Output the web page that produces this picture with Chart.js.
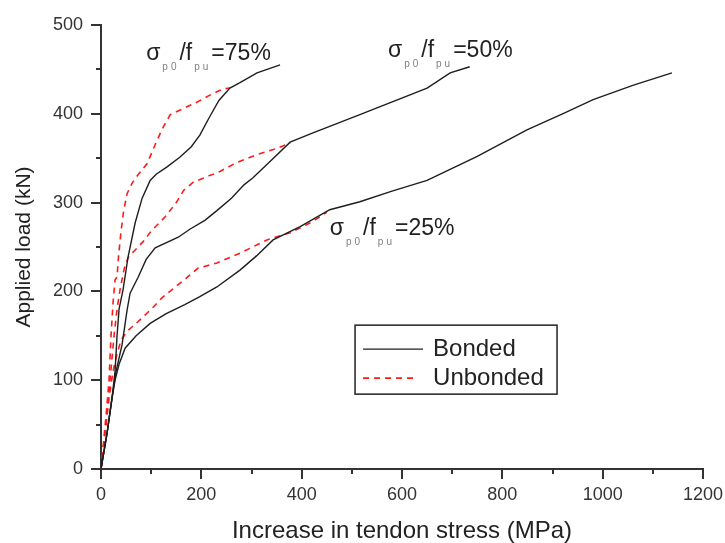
<!DOCTYPE html>
<html><head><meta charset="utf-8">
<script src="https://cdn.jsdelivr.net/npm/chart.js@4.4.0/dist/chart.umd.min.js"></script>
<style>html,body{margin:0;padding:0;background:#fff;}</style>
</head><body>
<canvas id="c" width="725" height="543"></canvas>
<script>
// ---- Data ----
const bonded75X = [0, 12, 22, 28, 32, 36, 44, 54, 68, 82, 98, 110, 131, 157, 180, 197, 215, 235, 257, 277, 311, 357];
const bonded75Y = [0, 40, 80, 110, 150, 180, 202, 239, 277, 305, 325, 332, 340, 351, 363, 376, 395, 415, 429, 435, 446, 455];

const unbonded75X = [0, 10, 16, 20, 24, 28, 32, 35, 40, 45, 52, 62, 72, 92, 110, 124, 138, 164, 191, 217, 243, 257];
const unbonded75Y = [0, 60, 100, 150, 187, 213, 216, 240, 268, 290, 310, 322, 330, 344, 368, 385, 399, 406, 413, 421, 428, 429];

const bonded50X = [0, 12, 22, 30, 42, 52, 58, 74, 90, 108, 154, 177, 207, 231, 260, 285, 303, 340, 377, 420, 516, 650, 696, 735];
const bonded50Y = [0, 40, 80, 110, 140, 179, 198, 216, 236, 249, 261, 270, 280, 291, 305, 320, 328, 348, 368, 378, 399, 429, 446, 453];

const unbonded50X = [0, 10, 18, 26, 32, 38, 46, 54, 62, 84, 100, 128, 150, 165, 184, 237, 270, 311, 345, 377];
const unbonded50Y = [0, 50, 100, 150, 180, 202, 225, 238, 243, 256, 268, 284, 300, 314, 323, 335, 345, 354, 360, 367];

const bonded25X = [0, 12, 22, 28, 36, 48, 70, 98, 130, 167, 197, 231, 277, 310, 343, 397, 456, 516, 580, 650, 750, 849, 920, 981, 1060, 1138];
const bonded25Y = [0, 40, 80, 100, 118, 136, 150, 164, 175, 185, 194, 205, 224, 240, 258, 273, 292, 301, 313, 325, 352, 382, 400, 416, 432, 446];

const unbonded25X = [0, 8, 16, 24, 32, 40, 52, 74, 102, 122, 148, 170, 193, 231, 277, 331, 377, 420, 450];
const unbonded25Y = [0, 40, 80, 110, 130, 145, 155, 166, 181, 193, 205, 215, 226, 232, 243, 258, 266, 278, 289];

const seriesNames = ['Bonded', 'Unbonded'];
const ratioTexts = ['=75%', '=50%', '=25%'];
const ratioLabelX = [90, 572, 456];
const ratioLabelY = [461, 464, 264];

const xTicks = [0, 200, 400, 600, 800, 1000, 1200];
const yTicks = [0, 100, 200, 300, 400, 500];

function pts(xs, ys) { return xs.map((x, i) => ({ x: x, y: ys[i] })); }

const FONT = '"Liberation Sans", Arial, sans-serif';
const BLACK = '#1e1e1e';
const RED = '#ff1a1a';

const bondedStyle = { borderColor: BLACK, borderWidth: 1.4, pointRadius: 0, showLine: true, tension: 0, fill: false };
const unbondedStyle = { borderColor: RED, borderWidth: 1.6, borderDash: [6, 5], pointRadius: 0, showLine: true, tension: 0, fill: false };

const datasets = [
  Object.assign({ label: seriesNames[0], data: pts(bonded75X, bonded75Y) }, bondedStyle),
  Object.assign({ label: seriesNames[0], data: pts(bonded50X, bonded50Y) }, bondedStyle),
  Object.assign({ label: seriesNames[0], data: pts(bonded25X, bonded25Y) }, bondedStyle),
  Object.assign({ label: seriesNames[1], data: pts(unbonded75X, unbonded75Y) }, unbondedStyle),
  Object.assign({ label: seriesNames[1], data: pts(unbonded50X, unbonded50Y) }, unbondedStyle),
  Object.assign({ label: seriesNames[1], data: pts(unbonded25X, unbonded25Y) }, unbondedStyle)
];

const tickPlugin = {
  id: 'tickMarks',
  afterDraw(chart) {
    const ctx = chart.ctx, xs = chart.scales.x, ys = chart.scales.y, ca = chart.chartArea;
    ctx.save();
    ctx.strokeStyle = '#333';
    ctx.lineWidth = 2;
    for (let v = 0; v <= 1200; v += 100) {
      const p = Math.round(xs.getPixelForValue(v));
      const len = (v % 200 === 0) ? 10 : 5;
      ctx.beginPath(); ctx.moveTo(p, ca.bottom); ctx.lineTo(p, ca.bottom + len); ctx.stroke();
    }
    for (let v = 0; v <= 500; v += 50) {
      const p = Math.round(ys.getPixelForValue(v));
      const len = (v % 100 === 0) ? 10 : 5;
      ctx.beginPath(); ctx.moveTo(ca.left, p); ctx.lineTo(ca.left - len, p); ctx.stroke();
    }
    ctx.restore();
  }
};

const ratioPlugin = {
  id: 'ratioLabels',
  afterDatasetsDraw(chart) {
    const ctx = chart.ctx, xs = chart.scales.x, ys = chart.scales.y;
    ctx.save();
    ctx.textBaseline = 'alphabetic';
    ctx.textAlign = 'left';
    for (let i = 0; i < ratioTexts.length; i++) {
      let x = xs.getPixelForValue(ratioLabelX[i]);
      const y = ys.getPixelForValue(ratioLabelY[i]);
      const parts = [['σ', 0], ['p0', 1], ['/f', 0], ['pu', 1], [ratioTexts[i], 0]];
      for (const [t, sub] of parts) {
        if (sub) {
          ctx.font = '10px ' + FONT;
          ctx.fillStyle = '#808080';
          x += 2;
          for (const ch of t) {
            ctx.fillText(ch, x, y + 10);
            x += ctx.measureText(ch).width + 3;
          }
        } else {
          ctx.font = '23px ' + FONT;
          ctx.fillStyle = '#222';
          ctx.fillText(t, x, y);
          x += ctx.measureText(t).width;
        }
      }
    }
    ctx.restore();
  }
};

const legendPlugin = {
  id: 'boxLegend',
  afterDraw(chart) {
    const ctx = chart.ctx, ca = chart.chartArea;
    const bx = ca.left + 0.422 * ca.width, by = ca.top + 0.676 * ca.height;
    const bw = 202, bh = 69;
    ctx.save();
    ctx.fillStyle = '#fff';
    ctx.fillRect(bx, by, bw, bh);
    ctx.strokeStyle = '#222';
    ctx.lineWidth = 1.5;
    ctx.strokeRect(bx, by, bw, bh);
    const styles = [bondedStyle, unbondedStyle];
    for (let i = 0; i < seriesNames.length; i++) {
      const ly = by + 24 + i * 29;
      const s = styles[i];
      ctx.strokeStyle = s.borderColor;
      ctx.lineWidth = s.borderWidth;
      ctx.setLineDash(s.borderDash || []);
      ctx.beginPath(); ctx.moveTo(bx + 8, ly); ctx.lineTo(bx + (i ? 63 : 68), ly); ctx.stroke();
      ctx.setLineDash([]);
      ctx.font = '24px ' + FONT;
      ctx.fillStyle = '#222';
      ctx.textBaseline = 'middle';
      ctx.fillText(seriesNames[i], bx + 78, ly);
    }
    ctx.restore();
  }
};

new Chart(document.getElementById('c'), {
  type: 'scatter',
  data: { datasets: datasets },
  options: {
    responsive: false,
    animation: false,
    layout: { padding: { left: 0, right: 22, top: 25, bottom: 0 } },
    plugins: { legend: { display: false }, tooltip: { enabled: false } },
    scales: {
      x: {
        type: 'linear', min: 0, max: 1200,
        afterBuildTicks(scale) { scale.ticks = xTicks.map(v => ({ value: v })); },
        afterFit(scale) { scale.height = 74; scale.paddingRight = 0; scale.paddingLeft = 0; },
        grid: { display: false, drawTicks: false },
        border: { display: true, color: '#333', width: 2 },
        ticks: { font: { family: FONT, size: 18 }, color: '#333', padding: 15, maxRotation: 0, callback: v => String(v) },
        title: { display: true, text: 'Increase in tendon stress (MPa)', font: { family: FONT, size: 24, lineHeight: 1 }, color: '#222', padding: { top: 0, bottom: 0 } }
      },
      y: {
        type: 'linear', min: 0, max: 500,
        afterBuildTicks(scale) { scale.ticks = yTicks.map(v => ({ value: v })); },
        afterFit(scale) { scale.width = 101; scale.paddingTop = 0; scale.paddingBottom = 0; },
        grid: { display: false, drawTicks: false },
        border: { display: true, color: '#333', width: 2 },
        ticks: { font: { family: FONT, size: 18 }, color: '#333', padding: 18, callback: v => String(v) },
        title: { display: true, text: 'Applied load (kN)', font: { family: FONT, size: 21, lineHeight: 1 }, color: '#222', padding: { top: 14, bottom: 0 } }
      }
    }
  },
  plugins: [tickPlugin, ratioPlugin, legendPlugin]
});
</script>
</body></html>
